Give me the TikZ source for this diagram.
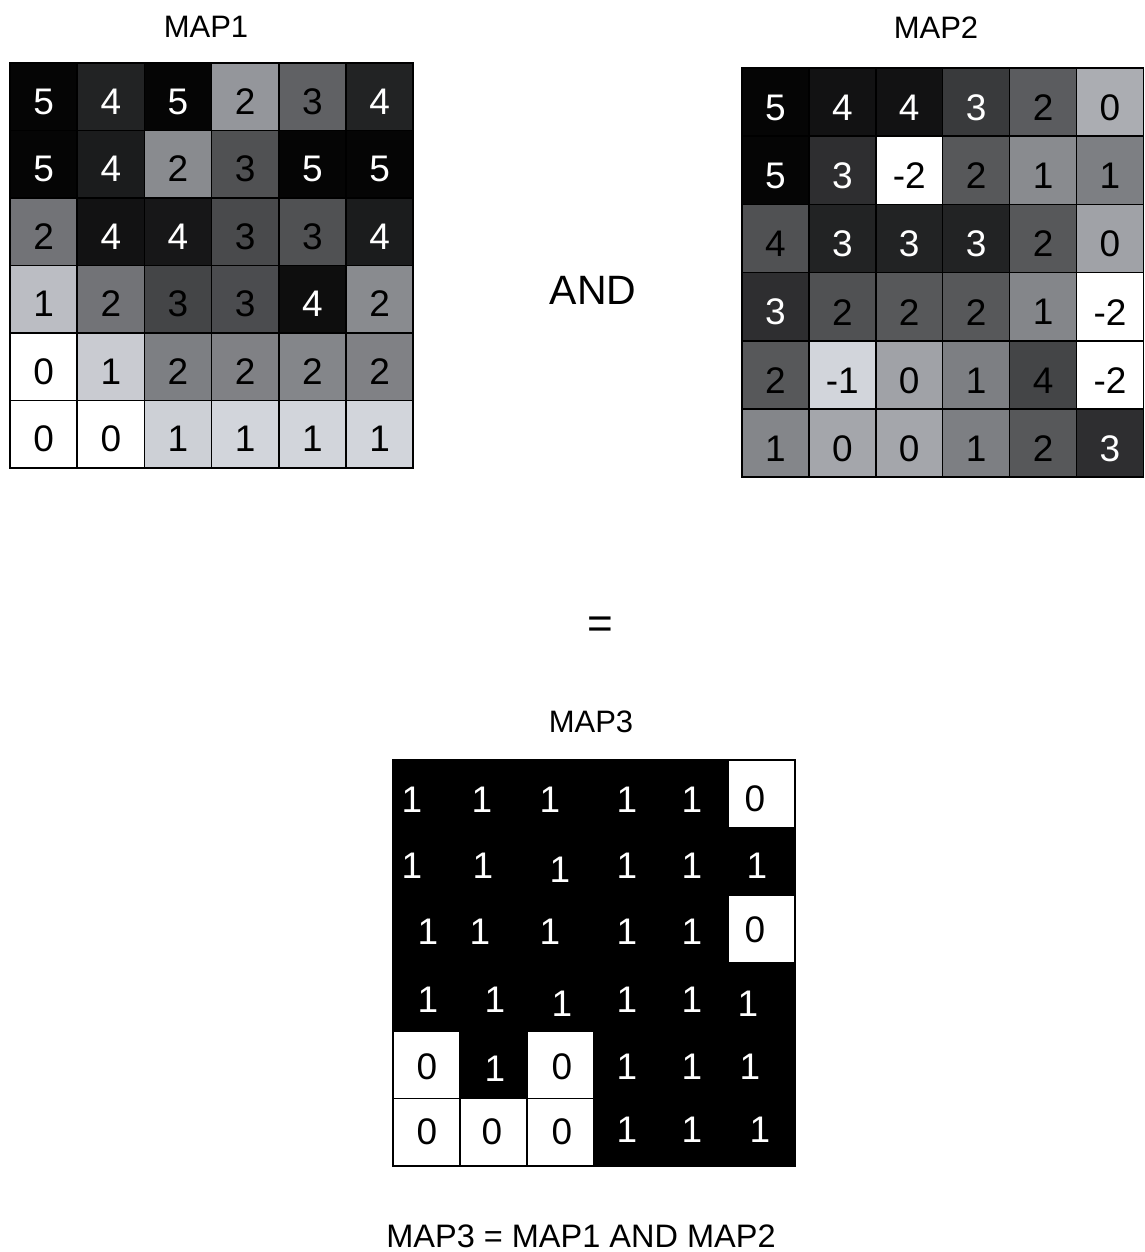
\documentclass[tikz,border=0pt]{standalone}
\usepackage{fontspec}
\setmainfont{Liberation Sans}
\definecolor{lg}{RGB}{228,231,238}
\begin{document}
\begin{tikzpicture}[x=1pt,y=-1pt,
  cell/.style={draw=black,line width=1.5pt},
  num/.style={font=\fontsize{37}{37}\selectfont,inner sep=0pt},
  lbl/.style={font=\fontsize{31}{31}\selectfont,inner sep=0pt}]
\useasboundingbox (0,0) rectangle (1144,1252);
\fill[white] (0,0) rectangle (1144,1252);
% ---------- MAP1 ----------
\foreach \r/\c/\v/\l/\t in {
1/1/5/2/white, 1/2/4/15/white, 1/3/5/2/white, 1/4/2/65/black, 1/5/3/42/black, 1/6/4/15/white,
2/1/5/2/white, 2/2/4/12/white, 2/3/2/60/black, 2/4/3/35/black, 2/5/5/2/white, 2/6/5/2/white,
3/1/2/50/black, 3/2/4/8/white, 3/3/4/10/white, 3/4/3/32/black, 3/5/3/35/black, 3/6/4/12/white,
4/1/1/82/black, 4/2/2/50/black, 4/3/3/30/black, 4/4/3/33/black, 4/5/4/6/white, 4/6/2/60/black,
5/1/0/100/black, 5/2/1/88/black, 5/3/2/55/black, 5/4/2/56/black, 5/5/2/58/black, 5/6/2/56/black,
6/1/0/100/black, 6/2/0/100/black, 6/3/1/90/black, 6/4/1/92/black, 6/5/1/92/black, 6/6/1/92/black}{
  \pgfmathsetmacro{\xa}{10+(\c-1)*67.2}
  \pgfmathsetmacro{\ya}{63+(\r-1)*67.5}
  \ifnum\l>99 \def\fc{white}\else\def\fc{lg!\l!black}\fi
  \draw[cell,fill=\fc] (\xa,\ya) rectangle ++(67.2,67.5);
  \node[num,text=\t] (ma-\r-\c) at (\xa+33.6,\ya+38.5) {\v};
}
% ---------- MAP2 ----------
\foreach \r/\c/\v/\l/\t in {
1/1/5/2/white, 1/2/4/8/white, 1/3/4/8/white, 1/4/3/25/white, 1/5/2/40/black, 1/6/0/75/black,
2/1/5/2/white, 2/2/3/20/white, 2/3/-2/100/black, 2/4/2/38/black, 2/5/1/60/black, 2/6/1/55/black,
3/1/4/35/black, 3/2/3/15/white, 3/3/3/15/white, 3/4/3/15/white, 3/5/2/38/black, 3/6/0/70/black,
4/1/3/20/white, 4/2/2/35/black, 4/3/2/38/black, 4/4/2/38/black, 4/5/1/58/black, 4/6/-2/100/black,
5/1/2/38/black, 5/2/-1/92/black, 5/3/0/70/black, 5/4/1/55/black, 5/5/4/30/black, 5/6/-2/100/black,
6/1/1/58/black, 6/2/0/72/black, 6/3/0/72/black, 6/4/1/55/black, 6/5/2/38/black, 6/6/3/20/white}{
  \pgfmathsetmacro{\xa}{742+(\c-1)*66.9}
  \pgfmathsetmacro{\ya}{68+(\r-1)*68.2}
  \ifnum\l>99 \def\fc{white}\else\def\fc{lg!\l!black}\fi
  \draw[cell,fill=\fc] (\xa,\ya) rectangle ++(66.9,68.2);
  \node[num,text=\t] (mb-\r-\c) at (\xa+33.45,\ya+39.5) {\v};
}
% ---------- MAP3 ----------
\foreach \r/\c/\v/\px/\py/\f/\t in {
1/1/1/412/800/black/white, 1/2/1/482/800/black/white, 1/3/1/550/800/black/white, 1/4/1/627/800/black/white, 1/5/1/692/800/black/white, 1/6/0/755/799/white/black,
2/1/1/412/866/black/white, 2/2/1/483/866/black/white, 2/3/1/560/870/black/white, 2/4/1/627/866/black/white, 2/5/1/692/866/black/white, 2/6/1/757/866/black/white,
3/1/1/428/932/black/white, 3/2/1/480/932/black/white, 3/3/1/550/932/black/white, 3/4/1/627/932/black/white, 3/5/1/692/932/black/white, 3/6/0/755/930/white/black,
4/1/1/428/1000/black/white, 4/2/1/495/1000/black/white, 4/3/1/562/1004/black/white, 4/4/1/627/1000/black/white, 4/5/1/692/1000/black/white, 4/6/1/748/1004/black/white,
5/1/0/427/1067/white/black, 5/2/1/495/1069/black/white, 5/3/0/562/1067/white/black, 5/4/1/627/1067/black/white, 5/5/1/692/1067/black/white, 5/6/1/750/1067/black/white,
6/1/0/427/1132/white/black, 6/2/0/492/1132/white/black, 6/3/0/562/1132/white/black, 6/4/1/627/1130/black/white, 6/5/1/692/1130/black/white, 6/6/1/760/1130/black/white}{
  \pgfmathsetmacro{\xa}{393+(\c-1)*67}
  \pgfmathsetmacro{\ya}{760+(\r-1)*67.7}
  \draw[cell,fill=\f] (\xa,\ya) rectangle ++(67,67.7);
  \node[num,text=\t] (mc-\r-\c) at (\px,\py) {\v};
}
\draw[line width=1.5pt] (393,760) rectangle (795,1166.2);
% ---------- labels ----------
\node[lbl] (lab1) at (206,26.5) {MAP1};
\node[lbl] (lab2) at (936,27.5) {MAP2};
\node[font=\fontsize{41}{41}\selectfont,inner sep=0pt] (and) at (593,290) {AND};
\node[font=\fontsize{44}{44}\selectfont,inner sep=0pt] (eq) at (600,628) {=};
\node[lbl] (lab3) at (591,721.5) {MAP3};
\node[font=\fontsize{32.5}{32.5}\selectfont,inner sep=0pt] (cap) at (581,1236) {MAP3 = MAP1 AND MAP2};
\end{tikzpicture}
\end{document}
